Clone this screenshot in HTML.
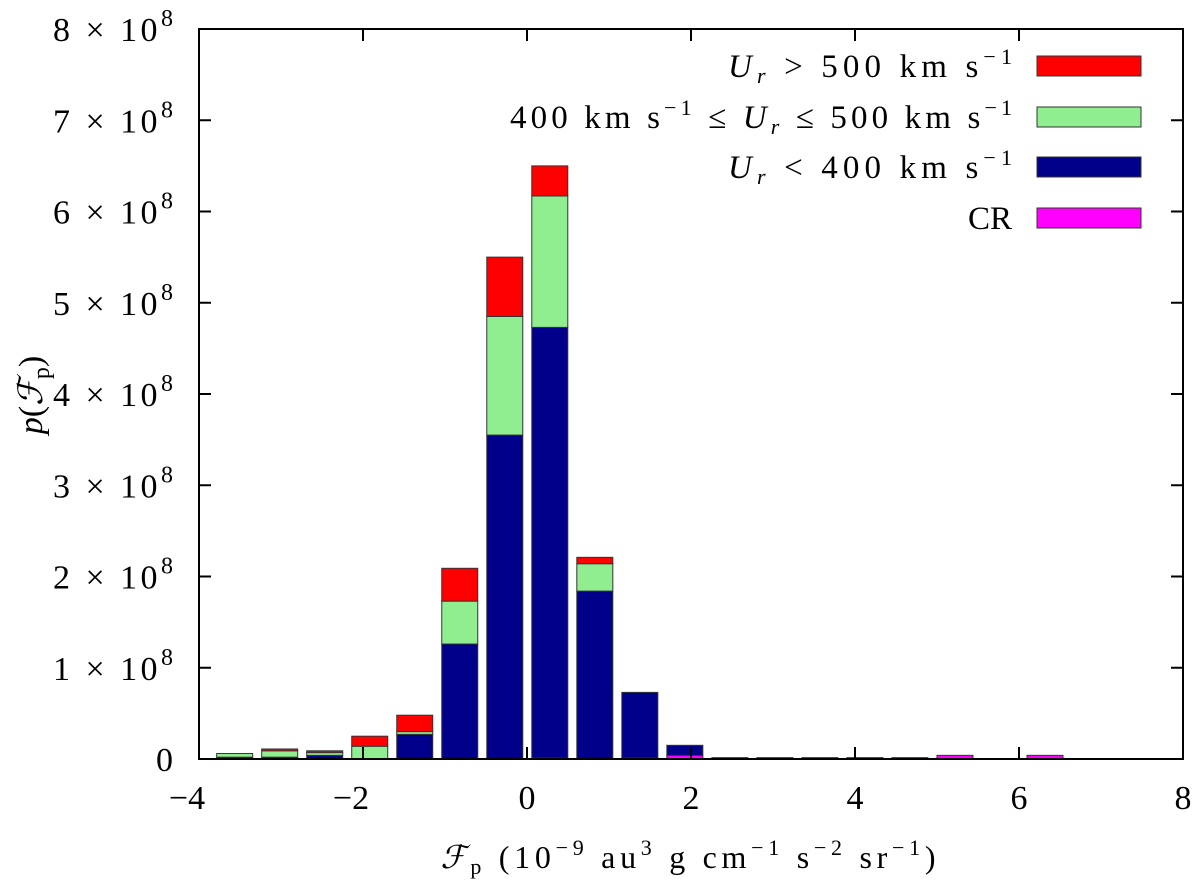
<!DOCTYPE html>
<html><head><meta charset="utf-8"><style>
body{margin:0;background:#fff}
svg{display:block;font-family:"Liberation Serif",serif}
</style></head><body>
<svg id="chart" width="1200" height="883" viewBox="0 0 1200 883">
<g id="bars"></g>
<g id="axes"></g>
<g id="legend"></g>
</svg>
<script>
// data (units of 1e8), bins indexed 0..18
const binStart = -3.565;
const binWidth = 0.549;
const cr   = [0,0,0,0,0,0,0,0.01,0,0.01,0.04,0,0.015,0.015,0.015,0.015,0.04,0,0.04];
const slow = [0.02,0.02,0.04,0,0.27,1.26,3.55,4.72,1.84,0.72,0.11,0.015,0,0,0,0,0,0,0];
const mid  = [0.04,0.07,0.03,0.14,0.03,0.47,1.30,1.44,0.30,0,0,0,0,0,0,0,0,0,0];
const fast = [0,0.02,0.02,0.11,0.18,0.36,0.65,0.33,0.07,0,0,0,0,0,0,0,0,0,0];
const xTicks = [-4,-2,0,2,4,6,8];
const yTicks = [0,1,2,3,4,5,6,7,8];

const X0=199,X1=1183,Y0=759,Y1=29;
const sx=v=>X0+(v+4)/12*(X1-X0);
const sy=v=>Y0-v/8*(Y0-Y1);
const NS="http://www.w3.org/2000/svg";
function mk(tag,attrs,parent){const e=document.createElementNS(NS,tag);for(const k in attrs)e.setAttribute(k,attrs[k]);parent.appendChild(e);return e;}
const bars=document.getElementById('bars'),axes=document.getElementById('axes'),leg=document.getElementById('legend');
const series=[[cr,'#ff00ff','cr'],[slow,'#00008b','slow'],[mid,'#90ee90','mid'],[fast,'#ff0000','fast']];
for(let i=0;i<slow.length;i++){
  const c=binStart+binWidth*i;
  let base=0;
  for(const [arr,col,nm] of series){
    const v=arr[i]; if(v<=0) continue;
    const xl=sx(c-0.2195), xr=sx(c+0.2195);
    const r=mk('rect',{x:xl,y:sy(base+v),width:xr-xl,height:sy(base)-sy(base+v),fill:col,stroke:'#333','stroke-width':1},bars);
    
    
    base+=v;
  }
}
const f=mk('rect',{x:X0,y:Y1,width:X1-X0,height:Y0-Y1,fill:'none',stroke:'#000','stroke-width':2},axes);

for(const t of xTicks){
  const x=sx(t);
  mk('line',{x1:x,x2:x,y1:Y0,y2:Y0-12,stroke:'#000','stroke-width':2},axes);
  mk('line',{x1:x,x2:x,y1:Y1,y2:Y1+12,stroke:'#000','stroke-width':2},axes);
  const tx=mk('text',{x:(t<0?x-12:x),y:Y0+50,'font-size':34,'text-anchor':'middle'},axes);
  tx.textContent=(t<0?'\u2212':'')+Math.abs(t);
  
}
for(const t of yTicks){
  const y=sy(t);
  mk('line',{x1:X0,x2:X0+12,y1:y,y2:y,stroke:'#000','stroke-width':2},axes);
  mk('line',{x1:X1,x2:X1-12,y1:y,y2:y,stroke:'#000','stroke-width':2},axes);
  const tx=mk('text',{x:173,y:y+12,'font-size':34,'text-anchor':'end'},axes);
  if(t===0){tx.textContent='0';}
  else{tx.innerHTML=t+' \u00d7 10<tspan dy="-15" font-size="24">8</tspan>';
       tx.setAttribute('textLength',120);tx.setAttribute('lengthAdjust','spacing');}
  
}
</script>
<script>
(function(){
const svg=document.getElementById('chart');
const NS="http://www.w3.org/2000/svg";
const xl=document.createElementNS(NS,'text');
xl.setAttribute('x',688);xl.setAttribute('y',868);xl.setAttribute('font-size',32);xl.setAttribute('text-anchor','middle');
xl.setAttribute('textLength',495);xl.setAttribute('lengthAdjust','spacing');
xl.innerHTML='<tspan font-style="italic">ℱ</tspan><tspan font-size="22" dy="6">p</tspan><tspan dy="-6">  (10</tspan><tspan font-size="22" dy="-13">−9</tspan><tspan dy="13"> au</tspan><tspan font-size="22" dy="-13">3</tspan><tspan dy="13"> g cm</tspan><tspan font-size="22" dy="-13">−1</tspan><tspan dy="13"> s</tspan><tspan font-size="22" dy="-13">−2</tspan><tspan dy="13"> sr</tspan><tspan font-size="22" dy="-13">−1</tspan><tspan dy="13">)</tspan>';


svg.appendChild(xl);
const yl=document.createElementNS(NS,'text');
yl.setAttribute('transform','translate(42,395) rotate(-90)');yl.setAttribute('font-size',34);yl.setAttribute('text-anchor','middle');
yl.innerHTML='<tspan font-style="italic">p</tspan>(<tspan font-style="italic">ℱ</tspan><tspan font-size="24" dy="7">p</tspan><tspan dy="-7">)</tspan>';


svg.appendChild(yl);
const leg=document.getElementById('legend');
const items=[
 ['<tspan font-style="italic">U</tspan><tspan font-style="italic" font-size="22" dy="6">r</tspan><tspan dy="-6"> &gt; 500 km s</tspan><tspan font-size="22" dy="-13">−1</tspan>','#ff0000',66,284],
 ['400 km s<tspan font-size="22" dy="-13">−1</tspan><tspan dy="13"> ≤ </tspan><tspan font-style="italic">U</tspan><tspan font-style="italic" font-size="22" dy="6">r</tspan><tspan dy="-6"> ≤ 500 km s</tspan><tspan font-size="22" dy="-13">−1</tspan>','#90ee90',117,502],
 ['<tspan font-style="italic">U</tspan><tspan font-style="italic" font-size="22" dy="6">r</tspan><tspan dy="-6"> &lt; 400 km s</tspan><tspan font-size="22" dy="-13">−1</tspan>','#00008b',167,284],
 ['CR','#ff00ff',218,0]];
for(const [lab,col,y,len] of items){
  const g=document.createElementNS(NS,'g');
  
  
  const t=document.createElementNS(NS,'text');
  t.setAttribute('x',1012);t.setAttribute('y',y+11);t.setAttribute('font-size',33);t.setAttribute('text-anchor','end');
  if(len){t.setAttribute('textLength',len);t.setAttribute('lengthAdjust','spacing');}
  t.innerHTML=lab;g.appendChild(t);
  const r=document.createElementNS(NS,'rect');
  r.setAttribute('x',1037);r.setAttribute('y',y-10);r.setAttribute('width',104);r.setAttribute('height',20);
  r.setAttribute('fill',col);r.setAttribute('stroke','#333');r.setAttribute('stroke-width',1);
  g.appendChild(r);leg.appendChild(g);
}
})();
</script>
</body></html>
